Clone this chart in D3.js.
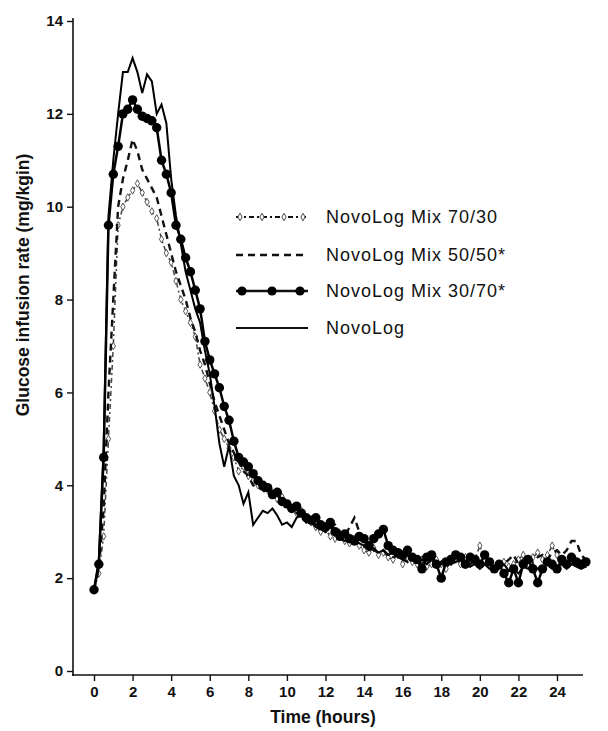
<!DOCTYPE html>
<html>
<head>
<meta charset="utf-8">
<script src="https://cdn.jsdelivr.net/npm/d3@7"></script>
<style>
  body { margin: 0; background: #fff; }
  text { font-family: "Liberation Sans", Arial, sans-serif; fill: #111; }
</style>
</head>
<body>
<script>
// time grid, hours (every 15 min)
var hours = d3.range(0, 25.51, 0.25);

// glucose infusion rate, mg/kg/min
var mix7030 = [1.75,2.1,2.9,5.0,7.0,9.6,10.0,10.2,10.35,10.5,10.3,10.1,9.9,9.75,9.3,9.0,8.8,8.4,8.0,7.75,7.5,7.2,6.6,6.3,6.0,5.6,5.2,5.0,4.8,4.6,4.3,4.4,4.2,4.1,4.0,3.95,3.9,3.85,3.7,3.75,3.6,3.5,3.4,3.45,3.3,3.2,3.1,3.0,3.05,2.9,2.85,2.95,2.8,2.75,2.85,2.7,2.6,2.55,2.65,2.5,2.55,2.45,2.4,2.5,2.3,2.45,2.35,2.3,2.4,2.25,2.3,2.4,2.3,2.2,2.35,2.4,2.3,2.45,2.3,2.4,2.7,2.4,2.3,2.2,2.3,2.35,2.25,2.3,2.4,2.5,2.3,2.45,2.55,2.4,2.5,2.7,2.5,2.4,2.3,2.4,2.35,2.3,2.3];
var mix5050 = [1.75,2.2,3.5,6.0,8.0,10.0,10.6,11.0,11.45,11.2,10.8,10.6,10.4,10.2,9.8,9.4,9.0,8.6,8.3,8.0,7.6,7.3,6.9,6.6,6.2,5.8,5.5,5.2,4.9,4.7,4.5,4.3,4.2,4.0,3.95,3.9,3.8,3.75,3.8,3.6,3.55,3.5,3.4,3.35,3.2,3.3,3.15,3.1,3.0,3.1,3.15,3.0,2.9,3.1,3.3,3.0,2.7,2.75,2.6,2.55,2.6,2.5,2.45,2.5,2.4,2.35,2.5,2.4,2.3,2.35,2.4,2.3,2.35,2.4,2.3,2.45,2.4,2.35,2.3,2.4,2.35,2.3,2.4,2.3,2.35,2.3,2.4,2.5,2.3,2.4,2.5,2.35,2.45,2.5,2.4,2.55,2.6,2.5,2.6,2.8,2.8,2.5,2.4];
var mix3070 = [1.75,2.3,4.6,9.6,10.7,11.3,12.0,12.1,12.3,12.1,11.95,11.9,11.85,11.7,11.0,10.7,10.3,9.6,9.3,8.9,8.6,8.2,7.8,7.1,6.7,6.4,6.1,5.7,5.4,4.95,4.6,4.5,4.4,4.25,4.1,4.0,3.95,3.8,3.85,3.65,3.6,3.5,3.55,3.4,3.3,3.25,3.3,3.15,3.1,3.2,3.0,2.9,2.95,2.85,2.8,2.9,2.85,2.7,2.85,2.95,3.05,2.7,2.6,2.55,2.5,2.6,2.45,2.4,2.2,2.45,2.5,2.3,2.0,2.35,2.4,2.5,2.45,2.3,2.45,2.4,2.3,2.5,2.35,2.2,2.3,2.1,1.9,2.2,1.9,2.3,2.4,2.2,1.9,2.2,2.35,2.3,2.2,2.4,2.3,2.45,2.35,2.3,2.35];
var novolog = [1.75,2.4,4.8,9.8,11.0,12.0,12.9,12.9,13.2,12.9,12.45,12.85,12.7,12.0,12.2,11.8,10.6,9.8,9.2,8.6,8.2,7.8,7.5,6.9,6.4,5.7,4.9,4.4,4.85,4.2,4.0,3.6,3.85,3.15,3.3,3.45,3.4,3.5,3.35,3.15,3.2,3.1,3.3,3.35,3.3,3.2,3.1,3.05,3.0,3.1,2.95,2.85,2.8,2.9,2.8,2.75,2.7,2.6,2.65,2.55,2.6,2.5,2.55,2.45,2.4,2.5,2.4,2.35,2.4,2.3,2.4,2.35,2.3,2.4,2.3,2.35,2.4,2.3,2.25,2.3,2.2,2.3,2.2,2.25,2.2,2.3,2.15,2.2,2.1,2.25,2.2,2.3,2.2,2.25,2.3,2.2,2.25,2.3,2.2,2.3,2.25,2.2,2.25];

var legendNames = ["NovoLog Mix 70/30", "NovoLog Mix 50/50*", "NovoLog Mix 30/70*", "NovoLog"];
var yTicks = [0, 2, 4, 6, 8, 10, 12, 14];
var xTicks = [0, 2, 4, 6, 8, 10, 12, 14, 16, 18, 20, 22, 24];

var width = 608, height = 731;

var svg = d3.select("body").append("svg")
    .attr("width", width)
    .attr("height", height);

var x = d3.scaleLinear().domain([0, 24]).range([94, 557]);
var y = d3.scaleLinear().domain([0, 14]).range([671, 21]);

//__axes__//
var yAxis = svg.append("g")
    .attr("transform", "translate(73,0)")
    .call(d3.axisLeft(y).tickValues(yTicks).tickSize(6).tickPadding(4).tickSizeOuter(0));
yAxis.select(".domain").attr("d", "M0,18V676").attr("stroke", "#111").attr("stroke-width", 1.6);
yAxis.selectAll(".tick line").attr("stroke", "#111").attr("stroke-width", 1.4);
yAxis.selectAll(".tick text").style("font-size", "15px").style("font-weight", "bold").attr("fill", "#111");

var xAxis = svg.append("g")
    .attr("transform", "translate(0,675)")
    .call(d3.axisBottom(x).tickValues(xTicks).tickSize(6).tickPadding(5).tickSizeOuter(0));
xAxis.select(".domain").attr("d", "M72,0H583").attr("stroke", "#111").attr("stroke-width", 1.6);
xAxis.selectAll(".tick line").attr("stroke", "#111").attr("stroke-width", 1.4);
xAxis.selectAll(".tick text").style("font-size", "15px").style("font-weight", "bold").attr("fill", "#111");

svg.append("text")
    .attr("transform", "translate(29,285) rotate(-90)")
    .attr("text-anchor", "middle")
    .style("font-size", "17.5px")
    .style("font-weight", "bold")
    .text("Glucose infusion rate (mg/kgin)");

svg.append("text")
    .attr("x", 323).attr("y", 723)
    .attr("text-anchor", "middle")
    .style("font-size", "17.5px")
    .style("font-weight", "bold")
    .text("Time (hours)");

//__series__//
var line = d3.line()
    .x(function(d, i) { return x(hours[i]); })
    .y(function(d) { return y(d); });

var diamond = d3.symbol().type(d3.symbolDiamond).size(16);

// 70/30 dash-dot with small open diamonds
svg.append("path").datum(mix7030)
    .attr("d", line).attr("fill", "none")
    .attr("stroke", "#444").attr("stroke-width", 1.5)
    .attr("stroke-dasharray", "5,3,2,3");
svg.selectAll(".m7030").data(mix7030).enter().append("path")
    .attr("class", "m7030")
    .attr("transform", function(d, i) { return "translate(" + x(hours[i]) + "," + y(d) + ")"; })
    .attr("d", diamond)
    .attr("fill", "#fff").attr("stroke", "#444").attr("stroke-width", 0.9);

// 50/50 dashed
svg.append("path").datum(mix5050)
    .attr("d", line).attr("fill", "none")
    .attr("stroke", "#111").attr("stroke-width", 2.4)
    .attr("stroke-dasharray", "7,5");

// NovoLog solid
svg.append("path").datum(novolog)
    .attr("d", line).attr("fill", "none")
    .attr("stroke", "#000").attr("stroke-width", 2);

// 30/70 line with filled dots
svg.append("path").datum(mix3070)
    .attr("d", line).attr("fill", "none")
    .attr("stroke", "#000").attr("stroke-width", 2.5);
svg.selectAll(".d3070").data(mix3070).enter().append("circle")
    .attr("class", "d3070")
    .attr("cx", function(d, i) { return x(hours[i]); })
    .attr("cy", function(d) { return y(d); })
    .attr("r", 4.7)
    .attr("fill", "#000");

//__legend__//
var legendY = [217, 255, 291, 328];
var lg = svg.append("g");
legendNames.forEach(function(name, i) {
    var ly = legendY[i];
    var seg = lg.append("line")
        .attr("x1", 236).attr("x2", 308)
        .attr("y1", ly).attr("y2", ly)
        .attr("stroke", "#111");
    if (i == 0) {
        seg.attr("stroke-width", 1.8).attr("stroke-dasharray", "5,3,2,3");
        [240, 262, 284, 303].forEach(function(mx) {
            lg.append("path").attr("transform", "translate(" + mx + "," + ly + ")")
                .attr("d", diamond).attr("fill", "#fff").attr("stroke", "#333").attr("stroke-width", 0.9);
        });
    } else if (i == 1) {
        seg.attr("stroke-width", 2.6).attr("stroke-dasharray", "7,5");
    } else if (i == 2) {
        seg.attr("stroke-width", 2.6);
        [242, 272, 300].forEach(function(mx) {
            lg.append("circle").attr("cx", mx).attr("cy", ly).attr("r", 4.6).attr("fill", "#000");
        });
    } else {
        seg.attr("stroke-width", 2.2);
    }
    lg.append("text")
        .attr("x", 326).attr("y", ly + 6)
        .style("font-size", "18px")
        .style("letter-spacing", "1px")
        .text(name);
});
</script>
</body>
</html>
